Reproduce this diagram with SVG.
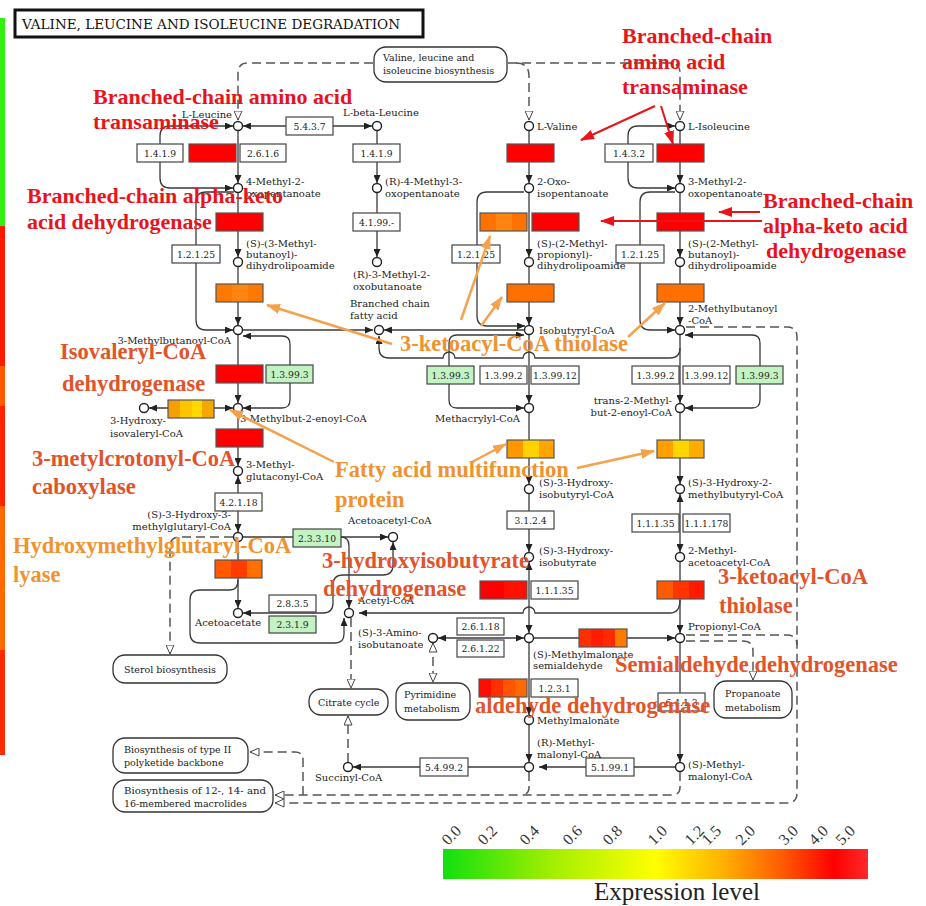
<svg xmlns="http://www.w3.org/2000/svg" width="926" height="906" viewBox="0 0 926 906">
<style>
.ln{fill:none;stroke:#3a3a3a;stroke-width:1.3}
.dl{fill:none;stroke:#555;stroke-width:1.5;stroke-dasharray:9 5}
.cp{fill:#fff;stroke:#222;stroke-width:1.4}
.eb{fill:#fff;stroke:#444;stroke-width:1.2}
.gb{fill:#c3f2c3;stroke:#444;stroke-width:1.2}
.cb{fill:none;stroke:#555;stroke-width:1.2}
.mb{fill:#fff;stroke:#333;stroke-width:1.3}
.et{font-family:"DejaVu Serif",serif;font-size:9.2px;fill:#222;text-anchor:middle}
.mt{font-family:"DejaVu Serif",serif;font-size:10px;fill:#222}
.r{text-anchor:end}
.bt{font-family:"DejaVu Serif",serif;font-size:9.5px;fill:#222}
.ar{font-family:"Liberation Serif",serif;font-weight:bold;font-size:22px;fill:#e8131b}
.ao{font-family:"Liberation Serif",serif;font-weight:bold;font-size:22.5px;fill:#e2532a}
.ay{font-family:"Liberation Serif",serif;font-weight:bold;font-size:22.5px;fill:#f0922f}
.ra{fill:none;stroke:#e8131b;stroke-width:2}
.oa{fill:none;stroke:#f5a24d;stroke-width:2.5}
.lg{font-family:"Liberation Serif",serif;font-size:16px;fill:#333}
</style>
<defs>
<marker id="a" viewBox="0 0 8 7" refX="8" refY="3.5" markerWidth="8" markerHeight="7" markerUnits="userSpaceOnUse" orient="auto-start-reverse"><path d="M0,0L8,3.5L0,7z" fill="#222"/></marker>
<marker id="o" viewBox="0 0 10 9" refX="9.5" refY="4.5" markerWidth="10" markerHeight="9" markerUnits="userSpaceOnUse" orient="auto-start-reverse"><path d="M0.5,0.5L9.5,4.5L0.5,8.5z" fill="#fff" stroke="#444" stroke-width="1"/></marker>
<marker id="mr" viewBox="0 0 14 10" refX="13" refY="5" markerWidth="14" markerHeight="10" markerUnits="userSpaceOnUse" orient="auto"><path d="M0,0L14,5L0,10z" fill="#e8131b"/></marker>
<marker id="mo" viewBox="0 0 14 10" refX="13" refY="5" markerWidth="14" markerHeight="10" markerUnits="userSpaceOnUse" orient="auto"><path d="M0,0L14,5L0,10z" fill="#f5a24d"/></marker>
<linearGradient id="lgd" x1="0" y1="0" x2="1" y2="0">
<stop offset="0" stop-color="#10e010"/><stop offset="0.25" stop-color="#a0ee00"/><stop offset="0.5" stop-color="#ffff00"/><stop offset="0.66" stop-color="#ffb000"/><stop offset="0.8" stop-color="#ff5a00"/><stop offset="0.92" stop-color="#ff0000"/><stop offset="1" stop-color="#ff2a2a"/>
</linearGradient>
</defs>
<rect width="926" height="906" fill="#fff"/>

<g id="side-bar">
<rect x="0" y="18" width="5" height="208" fill="#33ee11"/>
<rect x="0" y="226" width="5" height="140" fill="#ff1a00"/>
<rect x="0" y="366" width="5" height="40" fill="#ff5a00"/>
<rect x="0" y="406" width="5" height="100" fill="#ff2200"/>
<rect x="0" y="506" width="5" height="144" fill="#ff6a00"/>
<rect x="0" y="650" width="5" height="105" fill="#ff2a00"/>
</g>

<g id="title"><rect x="15" y="10" width="408" height="27" fill="#fff" stroke="#111" stroke-width="3"/><text x="22" y="29" font-family="DejaVu Serif,serif" font-size="13" fill="#111" textLength="378" lengthAdjust="spacingAndGlyphs">VALINE, LEUCINE AND ISOLEUCINE DEGRADATION</text></g>

<g id="connectors">
<!-- dashed map links -->
<path class="dl" d="M373,63H248Q238,63 238,73V120" marker-end="url(#o)"/>
<path class="dl" d="M508,63H670Q680,63 680,73V120" marker-end="url(#o)"/>
<path class="dl" d="M516,63Q529,63 529,76V120" marker-end="url(#o)"/>
<path class="dl" d="M686,327H787Q797,327 797,337V793Q797,803 787,803H275" marker-end="url(#o)"/>
<path class="dl" d="M686,635H787Q797,635 797,645"/>
<path class="dl" d="M686,641H743Q753,641 753,651V680" marker-end="url(#o)"/>
<path class="dl" d="M680,772V787Q680,795 672,795H275" marker-end="url(#o)"/>
<path class="dl" d="M529,772V787Q529,795 521,795"/>
<path class="dl" d="M303,795V760Q303,752 295,752H250" marker-end="url(#o)"/>
<path class="dl" d="M233,537H180Q170,537 170,547V654" marker-end="url(#o)"/>
<path class="dl" d="M351,618V688" marker-end="url(#o)"/>
<path class="dl" d="M348,762V716" marker-end="url(#o)"/>
<path class="dl" d="M433,643V682" marker-start="url(#o)" marker-end="url(#o)"/>
<!-- leucine column -->
<path class="ln" d="M238,131V183" marker-end="url(#a)"/>
<path class="ln" d="M238,193V257" marker-end="url(#a)"/>
<path class="ln" d="M238,267V325" marker-end="url(#a)"/>
<path class="ln" d="M238,335V403" marker-end="url(#a)"/>
<path class="ln" d="M238,413V466" marker-end="url(#a)"/>
<path class="ln" d="M238,476V532" marker-start="url(#a)" marker-end="url(#a)"/>
<path class="ln" d="M238,542V608" marker-end="url(#a)"/>
<path class="ln" d="M243,126H372" marker-start="url(#a)" marker-end="url(#a)"/>
<path class="ln" d="M233,126H170Q160,126 160,136V178Q160,188 170,188H233" marker-start="url(#a)" marker-end="url(#a)"/>
<path class="ln" d="M234,192H206Q196,192 196,202V320Q196,330 206,330H233" marker-end="url(#a)"/>
<path class="ln" d="M243,336H282Q290,336 290,344V400Q290,408 282,408H243" marker-start="url(#a)" marker-end="url(#a)"/>
<path class="ln" d="M149,408H233" marker-start="url(#a)" marker-end="url(#a)"/>
<path class="ln" d="M243,330H373" marker-end="url(#a)"/>
<path class="ln" d="M243,537H388" marker-end="url(#a)"/>
<path class="ln" d="M341,537Q349,537 349,546V608" marker-end="url(#a)"/>
<path class="ln" d="M243,613H323Q333,613 333,603V585Q333,575 343,575H383Q393,575 393,565V542" marker-start="url(#a)" marker-end="url(#a)"/>
<path class="ln" d="M238,580Q238,590 230,590H200Q190,590 190,600V633Q190,643 200,643H335Q344,643 344,634V618" marker-end="url(#a)"/>
<!-- beta column -->
<path class="ln" d="M377,131V183" marker-end="url(#a)"/>
<path class="ln" d="M377,193V257" marker-end="url(#a)"/>
<!-- valine column -->
<path class="ln" d="M529,131V183" marker-end="url(#a)"/>
<path class="ln" d="M529,193V257" marker-end="url(#a)"/>
<path class="ln" d="M529,267V325" marker-end="url(#a)"/>
<path class="ln" d="M529,335V403" marker-end="url(#a)"/>
<path class="ln" d="M529,413V484" marker-end="url(#a)"/>
<path class="ln" d="M529,494V552" marker-end="url(#a)"/>
<path class="ln" d="M529,562V633" marker-start="url(#a)" marker-end="url(#a)"/>
<path class="ln" d="M529,643V715" marker-end="url(#a)"/>
<path class="ln" d="M529,725V762" marker-end="url(#a)"/>
<path class="ln" d="M524,192H487Q477,192 477,202V316Q477,326 487,326H525" marker-end="url(#a)"/>
<path class="ln" d="M524,335H457Q449,335 449,343V400Q449,408 457,408H524" marker-start="url(#a)" marker-end="url(#a)"/>
<path class="ln" d="M524,330H384" marker-end="url(#a)"/>
<path class="ln" d="M524,638H438" marker-start="url(#a)" marker-end="url(#a)"/>
<path class="ln" d="M534,638H675" marker-end="url(#a)"/>
<path class="ln" d="M524,767H353" marker-end="url(#a)"/>
<!-- isoleucine column -->
<path class="ln" d="M680,131V183" marker-end="url(#a)"/>
<path class="ln" d="M680,193V257" marker-end="url(#a)"/>
<path class="ln" d="M680,267V325" marker-end="url(#a)"/>
<path class="ln" d="M680,335V403" marker-end="url(#a)"/>
<path class="ln" d="M680,413V484" marker-end="url(#a)"/>
<path class="ln" d="M680,494V552" marker-start="url(#a)" marker-end="url(#a)"/>
<path class="ln" d="M680,562V633" marker-end="url(#a)"/>
<path class="ln" d="M680,643V762" marker-end="url(#a)"/>
<path class="ln" d="M675,126H638Q628,126 628,136V178Q628,188 638,188H675" marker-start="url(#a)" marker-end="url(#a)"/>
<path class="ln" d="M675,192H650Q640,192 640,202V320Q640,330 650,330H675" marker-end="url(#a)"/>
<path class="ln" d="M685,335H752Q760,335 760,343V400Q760,408 752,408H685" marker-start="url(#a)" marker-end="url(#a)"/>
<path class="ln" d="M680,348Q680,358 670,358H535A6,6 0 0 0 523,358H455A6,6 0 0 0 443,358H389Q379,358 379,348V336" marker-end="url(#a)"/>
<path class="ln" d="M680,600Q680,613 670,613H535A6,6 0 0 0 523,613H359" marker-end="url(#a)"/>
<path class="ln" d="M675,767H539" marker-end="url(#a)"/>
</g>

<g id="enzymes">
<g id="e-1419a"><rect class="eb" x="137" y="144" width="46" height="18"/><text class="et" x="160" y="157">1.4.1.9</text></g>
<g id="e-bcat-leu"><rect x="189" y="144" width="47" height="18" fill="#ff0000" stroke="#555" stroke-width="1.2"/></g>
<g id="e-2616"><rect class="eb" x="240" y="144" width="46" height="18"/><text class="et" x="263" y="157">2.6.1.6</text></g>
<g id="e-5437"><rect class="eb" x="286" y="117" width="47" height="18"/><text class="et" x="309.5" y="130">5.4.3.7</text></g>
<g id="e-bckdh-leu"><rect x="216" y="213" width="47" height="18" fill="#ff0000" stroke="#555" stroke-width="1.2"/></g>
<g id="e-12125a"><rect class="eb" x="172" y="245" width="48" height="18"/><text class="et" x="196" y="258">1.2.1.25</text></g>
<g id="e-or-leu"><rect x="216" y="284" width="47" height="18" fill="#ff7800"/><rect x="232" y="284" width="16" height="18" fill="#ff8512"/><rect class="cb" x="216" y="284" width="47" height="18"/></g>
<g id="e-ivd"><rect x="216" y="365" width="47" height="18" fill="#ff0000" stroke="#555" stroke-width="1.2"/></g>
<g id="e-13993a"><rect class="gb" x="266" y="365" width="47" height="18"/><text class="et" x="289.5" y="378">1.3.99.3</text></g>
<g id="e-3hiv"><rect x="168" y="400" width="12" height="18" fill="#f5a000"/><rect x="180" y="400" width="12" height="18" fill="#ffc400"/><rect x="192" y="400" width="10" height="18" fill="#ffd800"/><rect x="202" y="400" width="12" height="18" fill="#f6a600"/><rect class="cb" x="168" y="400" width="46" height="18"/></g>
<g id="e-mcc"><rect x="216" y="429" width="47" height="18" fill="#ff0000" stroke="#555" stroke-width="1.2"/></g>
<g id="e-42118"><rect class="eb" x="215" y="493" width="47" height="18"/><text class="et" x="238.5" y="506">4.2.1.18</text></g>
<g id="e-23310"><rect class="gb" x="293" y="529" width="48" height="18"/><text class="et" x="317" y="542">2.3.3.10</text></g>
<g id="e-hmgl"><rect x="215" y="560" width="16" height="18" fill="#ff5a00"/><rect x="231" y="560" width="16" height="18" fill="#ff3c00"/><rect x="247" y="560" width="15" height="18" fill="#ff7000"/><rect class="cb" x="215" y="560" width="47" height="18"/></g>
<g id="e-2835"><rect class="eb" x="269" y="595" width="47" height="17"/><text class="et" x="292.5" y="607">2.8.3.5</text></g>
<g id="e-2319"><rect class="gb" x="269" y="616" width="47" height="17"/><text class="et" x="292.5" y="628">2.3.1.9</text></g>
<g id="e-1419b"><rect class="eb" x="353" y="144" width="47" height="18"/><text class="et" x="376.5" y="157">1.4.1.9</text></g>
<g id="e-4199"><rect class="eb" x="353" y="213" width="47" height="18"/><text class="et" x="376.5" y="226">4.1.99.-</text></g>
<g id="e-bcat-val"><rect x="507" y="144" width="47" height="18" fill="#ff0000" stroke="#555" stroke-width="1.2"/></g>
<g id="e-bckdh-val1"><rect x="480" y="213" width="47" height="18" fill="#ff7200"/><rect x="496" y="213" width="16" height="18" fill="#ff8410"/><rect class="cb" x="480" y="213" width="47" height="18"/></g>
<g id="e-bckdh-val2"><rect x="532" y="213" width="47" height="18" fill="#ff0000" stroke="#555" stroke-width="1.2"/></g>
<g id="e-12125b"><rect class="eb" x="452" y="245" width="48" height="18"/><text class="et" x="476" y="258">1.2.1.25</text></g>
<g id="e-or-val"><rect x="507" y="284" width="47" height="18" fill="#ff7000" stroke="#555" stroke-width="1.2"/></g>
<g id="e-13993b"><rect class="gb" x="427" y="366" width="47" height="18"/><text class="et" x="450.5" y="379">1.3.99.3</text></g>
<g id="e-13992b"><rect class="eb" x="480" y="366" width="47" height="18"/><text class="et" x="503.5" y="379">1.3.99.2</text></g>
<g id="e-139912b"><rect class="eb" x="531" y="366" width="48" height="18"/><text class="et" x="555" y="379">1.3.99.12</text></g>
<g id="e-fam-val"><rect x="507" y="440" width="16" height="18" fill="#ff9800"/><rect x="523" y="440" width="16" height="18" fill="#ffd200"/><rect x="539" y="440" width="15" height="18" fill="#ffa400"/><rect class="cb" x="507" y="440" width="47" height="18"/></g>
<g id="e-3124"><rect class="eb" x="507" y="511" width="47" height="18"/><text class="et" x="530.5" y="524">3.1.2.4</text></g>
<g id="e-hibadh"><rect x="480" y="581" width="47" height="18" fill="#ff0000"/><rect x="504" y="581" width="23" height="18" fill="#ff1000"/><rect class="cb" x="480" y="581" width="47" height="18"/></g>
<g id="e-11135b"><rect class="eb" x="531" y="581" width="47" height="18"/><text class="et" x="554.5" y="594">1.1.1.35</text></g>
<g id="e-26118"><rect class="eb" x="457" y="618" width="47" height="17"/><text class="et" x="480.5" y="630">2.6.1.18</text></g>
<g id="e-26122"><rect class="eb" x="457" y="640" width="47" height="17"/><text class="et" x="480.5" y="652">2.6.1.22</text></g>
<g id="e-mmsdh"><rect x="579" y="629" width="12" height="18" fill="#ff3000"/><rect x="591" y="629" width="12" height="18" fill="#ff1c00"/><rect x="603" y="629" width="12" height="18" fill="#ff2a00"/><rect x="615" y="629" width="12" height="18" fill="#ff7a00"/><rect class="cb" x="579" y="629" width="48" height="18"/></g>
<g id="e-aldh"><rect x="479" y="679" width="12" height="18" fill="#ff0e00"/><rect x="491" y="679" width="12" height="18" fill="#ff3000"/><rect x="503" y="679" width="12" height="18" fill="#ff5500"/><rect x="515" y="679" width="12" height="18" fill="#ff6a00"/><rect class="cb" x="479" y="679" width="48" height="18"/></g>
<g id="e-1231"><rect class="eb" x="531" y="679" width="47" height="18"/><text class="et" x="554.5" y="692">1.2.3.1</text></g>
<g id="e-54992"><rect class="eb" x="420" y="758" width="48" height="18"/><text class="et" x="444" y="771">5.4.99.2</text></g>
<g id="e-51991"><rect class="eb" x="586" y="758" width="48" height="18"/><text class="et" x="610" y="771">5.1.99.1</text></g>
<g id="e-1432"><rect class="eb" x="605" y="144" width="48" height="18"/><text class="et" x="629" y="157">1.4.3.2</text></g>
<g id="e-bcat-ile"><rect x="657" y="144" width="47" height="18" fill="#ff0000" stroke="#555" stroke-width="1.2"/></g>
<g id="e-bckdh-ile"><rect x="657" y="213" width="47" height="18" fill="#ff0000" stroke="#555" stroke-width="1.2"/></g>
<g id="e-12125c"><rect class="eb" x="616" y="245" width="48" height="18"/><text class="et" x="640" y="258">1.2.1.25</text></g>
<g id="e-or-ile"><rect x="657" y="284" width="47" height="18" fill="#ff7000" stroke="#555" stroke-width="1.2"/></g>
<g id="e-13992c"><rect class="eb" x="632" y="366" width="47" height="18"/><text class="et" x="655.5" y="379">1.3.99.2</text></g>
<g id="e-139912c"><rect class="eb" x="683" y="366" width="47" height="18"/><text class="et" x="706.5" y="379">1.3.99.12</text></g>
<g id="e-13993c"><rect class="gb" x="736" y="366" width="47" height="18"/><text class="et" x="759.5" y="379">1.3.99.3</text></g>
<g id="e-fam-ile"><rect x="657" y="440" width="16" height="18" fill="#ffa000"/><rect x="673" y="440" width="16" height="18" fill="#ffd600"/><rect x="689" y="440" width="15" height="18" fill="#ffac00"/><rect class="cb" x="657" y="440" width="47" height="18"/></g>
<g id="e-11135c"><rect class="eb" x="632" y="514" width="47" height="18"/><text class="et" x="655.5" y="527">1.1.1.35</text></g>
<g id="e-111178"><rect class="eb" x="683" y="514" width="47" height="18"/><text class="et" x="706.5" y="527">1.1.1.178</text></g>
<g id="e-thiol-ile"><rect x="657" y="581" width="16" height="18" fill="#ff5a00"/><rect x="673" y="581" width="16" height="18" fill="#ff3400"/><rect x="689" y="581" width="15" height="18" fill="#ff1a00"/><rect class="cb" x="657" y="581" width="47" height="18"/></g>
<g id="e-6413"><rect class="eb" x="658" y="693" width="47" height="18"/><text class="et" x="681.5" y="706">6.4.1.3</text></g>
</g>

<g id="maps">
<g id="m-bios"><rect class="mb" x="374" y="47" width="133" height="35" rx="12"/><text class="bt" x="383" y="61">Valine, leucine and</text><text class="bt" x="383" y="74">isoleucine biosynthesis</text></g>
<g id="m-sterol"><rect class="mb" x="113" y="655" width="114" height="28" rx="12"/><text class="bt" x="124" y="673">Sterol biosynthesis</text></g>
<g id="m-citrate"><rect class="mb" x="309" y="689" width="79" height="26" rx="12"/><text class="bt" x="318" y="706">Citrate cycle</text></g>
<g id="m-pyr"><rect class="mb" x="396" y="683" width="74" height="37" rx="12"/><text class="bt" x="404" y="698">Pyrimidine</text><text class="bt" x="404" y="712">metabolism</text></g>
<g id="m-prop"><rect class="mb" x="714" y="681" width="78" height="37" rx="12"/><text class="bt" x="725" y="697">Propanoate</text><text class="bt" x="725" y="711">metabolism</text></g>
<g id="m-poly"><rect class="mb" x="113" y="738" width="135" height="35" rx="12"/><text class="bt" x="124" y="753">Biosynthesis of type II</text><text class="bt" x="124" y="766">polyketide backbone</text></g>
<g id="m-macro"><rect class="mb" x="113" y="780" width="160" height="32" rx="12"/><text class="bt" x="124" y="794" textLength="142" lengthAdjust="spacingAndGlyphs">Biosynthesis of 12-, 14- and</text><text class="bt" x="124" y="807">16-membered macrolides</text></g>
</g>

<g id="compounds">
<g id="c-leu"><circle class="cp" cx="238" cy="126" r="4.5"/><text class="mt r" x="232" y="118">L-Leucine</text></g>
<g id="c-bleu"><circle class="cp" cx="377" cy="126" r="4.5"/><text class="mt" x="343" y="116">L-beta-Leucine</text></g>
<g id="c-val"><circle class="cp" cx="529" cy="126" r="4.5"/><text class="mt" x="537" y="130">L-Valine</text></g>
<g id="c-ile"><circle class="cp" cx="680" cy="126" r="4.5"/><text class="mt" x="688" y="130">L-Isoleucine</text></g>
<g id="c-4m2o"><circle class="cp" cx="238" cy="188" r="4.5"/><text class="mt" x="246" y="185">4-Methyl-2-</text><text class="mt" x="246" y="197">oxopentanoate</text></g>
<g id="c-r4m3o"><circle class="cp" cx="377" cy="188" r="4.5"/><text class="mt" x="385" y="185">(R)-4-Methyl-3-</text><text class="mt" x="385" y="197">oxopentanoate</text></g>
<g id="c-2oxo"><circle class="cp" cx="529" cy="188" r="4.5"/><text class="mt" x="537" y="185">2-Oxo-</text><text class="mt" x="537" y="197">isopentanoate</text></g>
<g id="c-3m2o"><circle class="cp" cx="680" cy="188" r="4.5"/><text class="mt" x="688" y="185">3-Methyl-2-</text><text class="mt" x="688" y="197">oxopentanoate</text></g>
<g id="c-s3mb"><circle class="cp" cx="238" cy="262" r="4.5"/><text class="mt" x="246" y="247">(S)-(3-Methyl-</text><text class="mt" x="246" y="258">butanoyl)-</text><text class="mt" x="246" y="269">dihydrolipoamide</text></g>
<g id="c-r3m2o"><circle class="cp" cx="377" cy="262" r="4.5"/><text class="mt" x="353" y="278">(R)-3-Methyl-2-</text><text class="mt" x="353" y="290">oxobutanoate</text></g>
<g id="c-s2mp"><circle class="cp" cx="529" cy="262" r="4.5"/><text class="mt" x="537" y="247">(S)-(2-Methyl-</text><text class="mt" x="537" y="258">propionyl)-</text><text class="mt" x="537" y="269">dihydrolipoamide</text></g>
<g id="c-s2mb"><circle class="cp" cx="680" cy="262" r="4.5"/><text class="mt" x="688" y="247">(S)-(2-Methyl-</text><text class="mt" x="688" y="258">butanoyl)-</text><text class="mt" x="688" y="269">dihydrolipoamide</text></g>
<g id="c-3mbcoa"><circle class="cp" cx="238" cy="330" r="4.5"/><text class="mt r" x="231" y="344">3-Methylbutanoyl-CoA</text></g>
<g id="c-bcfa"><circle class="cp" cx="379" cy="330" r="4.5"/><text class="mt" x="350" y="307">Branched chain</text><text class="mt" x="350" y="319">fatty acid</text></g>
<g id="c-ibcoa"><circle class="cp" cx="529" cy="330" r="4.5"/><text class="mt" x="539" y="334">Isobutyryl-CoA</text></g>
<g id="c-2mbcoa"><circle class="cp" cx="680" cy="330" r="4.5"/><text class="mt" x="688" y="312">2-Methylbutanoyl</text><text class="mt" x="688" y="324">-CoA</text></g>
<g id="c-3hiv"><circle class="cp" cx="144" cy="408" r="4.5"/><text class="mt" x="110" y="424">3-Hydroxy-</text><text class="mt" x="110" y="437">isovaleryl-CoA</text></g>
<g id="c-3mbe"><circle class="cp" cx="238" cy="408" r="4.5"/><text class="mt" x="240" y="422">3-Methylbut-2-enoyl-CoA</text></g>
<g id="c-macr"><circle class="cp" cx="529" cy="408" r="4.5"/><text class="mt" x="435" y="422">Methacrylyl-CoA</text></g>
<g id="c-t2mb"><circle class="cp" cx="680" cy="408" r="4.5"/><text class="mt r" x="672" y="404">trans-2-Methyl-</text><text class="mt r" x="672" y="416">but-2-enoyl-CoA</text></g>
<g id="c-3mgc"><circle class="cp" cx="238" cy="471" r="4.5"/><text class="mt" x="246" y="468">3-Methyl-</text><text class="mt" x="246" y="480">glutaconyl-CoA</text></g>
<g id="c-hmg"><circle class="cp" cx="238" cy="537" r="4.5"/><text class="mt r" x="231" y="518">(S)-3-Hydroxy-3-</text><text class="mt r" x="231" y="530">methylglutaryl-CoA</text></g>
<g id="c-3hibcoa"><circle class="cp" cx="529" cy="489" r="4.5"/><text class="mt" x="539" y="486">(S)-3-Hydroxy-</text><text class="mt" x="539" y="498">isobutyryl-CoA</text></g>
<g id="c-3h2mb"><circle class="cp" cx="680" cy="489" r="4.5"/><text class="mt" x="688" y="486">(S)-3-Hydroxy-2-</text><text class="mt" x="688" y="498">methylbutyryl-CoA</text></g>
<g id="c-3hib"><circle class="cp" cx="529" cy="557" r="4.5"/><text class="mt" x="539" y="554">(S)-3-Hydroxy-</text><text class="mt" x="539" y="566">isobutyrate</text></g>
<g id="c-2maa"><circle class="cp" cx="680" cy="557" r="4.5"/><text class="mt" x="688" y="554">2-Methyl-</text><text class="mt" x="688" y="566">acetoacetyl-CoA</text></g>
<g id="c-aacoa"><circle class="cp" cx="393" cy="537" r="4.5"/><text class="mt" x="348" y="524">Acetoacetyl-CoA</text></g>
<g id="c-aa"><circle class="cp" cx="238" cy="613" r="4.5"/><text class="mt" x="195" y="626">Acetoacetate</text></g>
<g id="c-accoa"><circle class="cp" cx="349" cy="613" r="4.5"/><text class="mt" x="358" y="604">Acetyl-CoA</text></g>
<g id="c-3aib"><circle class="cp" cx="433" cy="638" r="4.5"/><text class="mt" x="358" y="636">(S)-3-Amino-</text><text class="mt" x="358" y="648">isobutanoate</text></g>
<g id="c-mmsa"><circle class="cp" cx="529" cy="638" r="4.5"/><text class="mt" x="533" y="658">(S)-Methylmalonate</text><text class="mt" x="533" y="669">semialdehyde</text></g>
<g id="c-propcoa"><circle class="cp" cx="680" cy="638" r="4.5"/><text class="mt" x="688" y="630">Propionyl-CoA</text></g>
<g id="c-mm"><circle class="cp" cx="529" cy="720" r="4.5"/><text class="mt" x="537" y="724">Methylmalonate</text></g>
<g id="c-rmm"><circle class="cp" cx="529" cy="767" r="4.5"/><text class="mt" x="537" y="746">(R)-Methyl-</text><text class="mt" x="537" y="758">malonyl-CoA</text></g>
<g id="c-smm"><circle class="cp" cx="680" cy="767" r="4.5"/><text class="mt" x="688" y="768">(S)-Methyl-</text><text class="mt" x="688" y="780">malonyl-CoA</text></g>
<g id="c-succ"><circle class="cp" cx="348" cy="767" r="4.5"/><text class="mt" x="315" y="781">Succinyl-CoA</text></g>
</g>

<g id="annotation-arrows">
<path class="ra" d="M655,106L581,140" marker-end="url(#mr)"/>
<path class="ra" d="M661,106L673,144" marker-end="url(#mr)"/>
<path class="ra" d="M760,212L719,212" marker-end="url(#mr)"/>
<path class="ra" d="M762,221L601,221" marker-end="url(#mr)"/>
<path class="oa" d="M392,344L267,305" marker-end="url(#mo)"/>
<path class="oa" d="M461,320L490,236" marker-end="url(#mo)"/>
<path class="oa" d="M481,326L502,297" marker-end="url(#mo)"/>
<path class="oa" d="M628,337L665,303" marker-end="url(#mo)"/>
<path class="oa" d="M334,462L230,410" marker-end="url(#mo)"/>
<path class="oa" d="M472,462L506,444" marker-end="url(#mo)"/>
<path class="oa" d="M577,468L654,451" marker-end="url(#mo)"/>
</g>

<g id="annotations">
<text class="ar" x="93" y="104">Branched-chain amino acid</text>
<text class="ar" x="93" y="129">transaminase</text>
<text class="ar" x="27" y="203">Branched-chain alpha-keto</text>
<text class="ar" x="27" y="229">acid dehydrogenase</text>
<text class="ar" x="622" y="43">Branched-chain</text>
<text class="ar" x="622" y="69">amino acid</text>
<text class="ar" x="622" y="94">transaminase</text>
<text class="ar" x="763" y="208">Branched-chain</text>
<text class="ar" x="763" y="233">alpha-keto acid</text>
<text class="ar" x="766" y="258">dehydrogenase</text>
<text class="ao" x="60" y="359">Isovaleryl-CoA</text>
<text class="ao" x="62" y="391">dehydrogenase</text>
<text class="ao" x="32" y="466">3-metylcrotonyl-CoA</text>
<text class="ao" x="32" y="494">caboxylase</text>
<text class="ay" x="13" y="553">Hydroxymethylglutaryl-CoA</text>
<text class="ay" x="13" y="582">lyase</text>
<text class="ay" x="400" y="351">3-ketoacyl-CoA thiolase</text>
<text class="ay" x="335" y="477">Fatty acid multifunction</text>
<text class="ay" x="335" y="507">protein</text>
<text class="ao" x="322" y="568">3-hydroxyisobutyrate</text>
<text class="ao" x="323" y="596">dehydrogenase</text>
<text class="ao" x="718" y="584">3-ketoacyl-CoA</text>
<text class="ao" x="719" y="613">thiolase</text>
<text class="ao" x="615" y="672">Semialdehyde dehydrogenase</text>
<text class="ao" x="475" y="713">aldehyde dehydrogenase</text>
</g>

<g id="legend">
<rect x="443" y="849" width="425" height="30" fill="url(#lgd)"/>
<text class="lg" transform="translate(448,846) rotate(-45)">0.0</text>
<text class="lg" transform="translate(484,846) rotate(-45)">0.2</text>
<text class="lg" transform="translate(526,846) rotate(-45)">0.4</text>
<text class="lg" transform="translate(569,846) rotate(-45)">0.6</text>
<text class="lg" transform="translate(609,846) rotate(-45)">0.8</text>
<text class="lg" transform="translate(654,846) rotate(-45)">1.0</text>
<text class="lg" transform="translate(691,846) rotate(-45)">1.2</text>
<text class="lg" transform="translate(708,846) rotate(-45)">1.5</text>
<text class="lg" transform="translate(742,846) rotate(-45)">2.0</text>
<text class="lg" transform="translate(785,846) rotate(-45)">3.0</text>
<text class="lg" transform="translate(815,846) rotate(-45)">4.0</text>
<text class="lg" transform="translate(842,846) rotate(-45)">5.0</text>
<text x="677" y="900" text-anchor="middle" font-family="Liberation Serif,serif" font-size="25" fill="#222">Expression level</text>
</g>
</svg>
